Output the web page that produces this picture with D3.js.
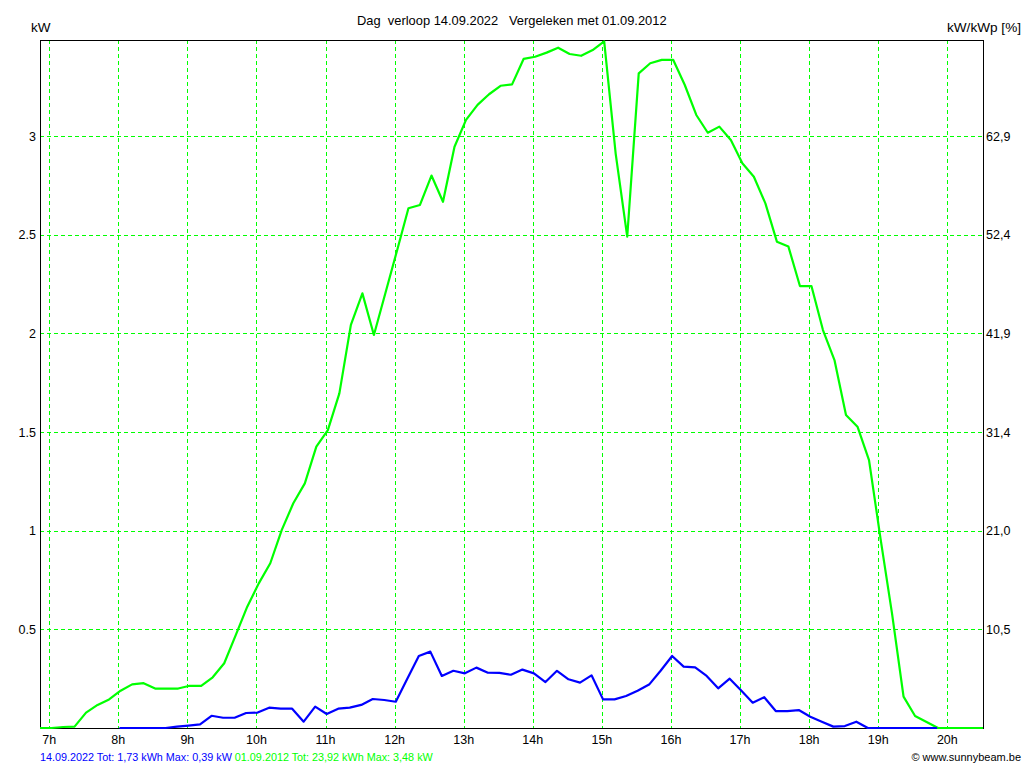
<!DOCTYPE html>
<html>
<head>
<meta charset="utf-8">
<script src="https://cdn.jsdelivr.net/npm/d3@7"></script>
<style>
  html, body { margin: 0; padding: 0; background: #fff; }
  svg { display: block; font-family: "Liberation Sans", Arial, sans-serif; }
  text { white-space: pre; }
</style>
</head>
<body>
<svg id="chart" width="1024" height="768"></svg>
<script>
// ---- Data ----
const hourTicks = [7, 8, 9, 10, 11, 12, 13, 14, 15, 16, 17, 18, 19, 20];
const hourLabels = ["7h","8h","9h","10h","11h","12h","13h","14h","15h","16h","17h","18h","19h","20h"];
const kwTicks = [0.5, 1, 1.5, 2, 2.5, 3];
const kwLabels = ["0.5", "1", "1.5", "2", "2.5", "3"];
const pctLabels = ["10,5", "21,0", "31,4", "41,9", "52,4", "62,9"];

// 01.09.2012 (green) – 10 minute samples
const greenTimes = ["6:52","7:02","7:12","7:22","7:32","7:42","7:52","8:02","8:12","8:22","8:32","8:42","8:52",
  "9:02","9:12","9:22","9:32","9:42","9:52","10:02","10:12","10:22","10:32","10:42","10:52",
  "11:02","11:12","11:22","11:32","11:42","11:52","12:02","12:12","12:22","12:32","12:42","12:52",
  "13:02","13:12","13:22","13:32","13:42","13:52","14:02","14:12","14:22","14:32","14:42","14:52",
  "15:02","15:12","15:22","15:32","15:42","15:52","16:02","16:12","16:22","16:32","16:42","16:52",
  "17:02","17:12","17:22","17:32","17:42","17:52","18:02","18:12","18:22","18:32","18:42","18:52",
  "19:02","19:12","19:22","19:32","19:42","19:52","20:02","20:12","20:22","20:31"];
const greenValues = [0,0,0.005,0.007,0.078,0.117,0.145,0.189,0.221,0.227,0.200,0.200,0.200,
  0.214,0.214,0.257,0.328,0.471,0.615,0.733,0.835,1.004,1.139,1.240,1.426,
  1.510,1.696,2.043,2.203,1.992,2.205,2.418,2.634,2.651,2.800,2.667,2.946,
  3.082,3.158,3.212,3.255,3.262,3.391,3.402,3.423,3.448,3.416,3.407,3.436,
  3.480,2.910,2.490,3.318,3.369,3.386,3.386,3.259,3.107,3.017,3.048,2.980,
  2.862,2.794,2.659,2.465,2.440,2.240,2.240,2.017,1.865,1.586,1.527,1.358,
  0.960,0.580,0.159,0.061,0.030,0,0,0,0,0];

// 14.09.2022 (blue) – 10 minute samples
const blueTimes = ["8:01","8:11","8:21","8:31","8:41","8:51","9:01","9:11","9:21","9:31","9:41","9:51",
  "10:01","10:11","10:21","10:31","10:41","10:51","11:01","11:11","11:21","11:31","11:41","11:51",
  "12:01","12:11","12:21","12:31","12:41","12:51","13:01","13:11","13:21","13:31","13:41","13:51",
  "14:01","14:11","14:21","14:31","14:41","14:51","15:01","15:11","15:21","15:31","15:41","15:51",
  "16:01","16:11","16:21","16:31","16:41","16:51","17:01","17:11","17:21","17:31","17:41","17:51",
  "18:01","18:11","18:21","18:31","18:41","18:51","19:01","19:11","19:21","19:31","19:41","19:51"];
const blueValues = [0,0,0,0,0,0.007,0.012,0.018,0.062,0.052,0.052,0.076,
  0.078,0.103,0.098,0.098,0.032,0.108,0.071,0.098,0.103,0.117,0.147,0.142,
  0.133,0.250,0.365,0.387,0.264,0.290,0.277,0.306,0.280,0.279,0.270,0.296,
  0.277,0.233,0.290,0.247,0.230,0.267,0.145,0.145,0.162,0.189,0.220,0.290,
  0.365,0.311,0.307,0.264,0.201,0.250,0.190,0.128,0.156,0.086,0.086,0.091,
  0.057,0.032,0.007,0.010,0.032,0,0,0,0,0,0,0];

const titleText = "Dag  verloop 14.09.2022   Vergeleken met 01.09.2012";
const footerBlue = "14.09.2022 Tot: 1,73 kWh Max: 0,39 kW ";
const footerGreen = "01.09.2012 Tot: 23,92 kWh Max: 3,48 kW";
const creditText = "\u00A9 www.sunnybeam.be";

// ---- Layout ----
const pLeft = 40, pRight = 983, pTop = 40, pBottom = 728;
const toHours = s => { const [h, m] = s.split(":").map(Number); return h + m / 60; };

const x = d3.scaleLinear().domain([6 + 52/60, 20 + 31/60]).range([pLeft, pRight]);
const y = d3.scaleLinear().domain([0, 3.487]).range([pBottom, pTop]);

const svg = d3.select("#chart");
const GRID = "#00ff00";

// grid
const g = svg.append("g");
g.selectAll("line.v").data(hourTicks).join("line")
  .attr("x1", d => Math.round(x(d)) + 0.5).attr("x2", d => Math.round(x(d)) + 0.5)
  .attr("y1", pTop).attr("y2", pBottom)
  .attr("stroke", GRID).attr("stroke-width", 1).attr("stroke-dasharray", "4,3")
  .attr("shape-rendering", "crispEdges");
g.selectAll("line.h").data(kwTicks).join("line")
  .attr("x1", pLeft).attr("x2", pRight)
  .attr("y1", d => Math.round(y(d)) + 0.5).attr("y2", d => Math.round(y(d)) + 0.5)
  .attr("stroke", GRID).attr("stroke-width", 1).attr("stroke-dasharray", "4,3")
  .attr("shape-rendering", "crispEdges");

// axes frame
const axisG = svg.append("g").attr("shape-rendering", "crispEdges");
axisG.append("line").attr("x1", pLeft).attr("x2", pRight).attr("y1", pTop + 0.5).attr("y2", pTop + 0.5).attr("stroke", "#000").attr("stroke-width", 1.5);
axisG.append("line").attr("x1", pLeft).attr("x2", pRight + 1).attr("y1", pBottom + 0.5).attr("y2", pBottom + 0.5).attr("stroke", "#000").attr("stroke-width", 1.5);
axisG.append("line").attr("x1", pLeft + 0.5).attr("x2", pLeft + 0.5).attr("y1", pTop).attr("y2", pBottom).attr("stroke", "#000").attr("stroke-width", 1.5);
axisG.append("line").attr("x1", pRight + 0.5).attr("x2", pRight + 0.5).attr("y1", pTop).attr("y2", pBottom).attr("stroke", "#000").attr("stroke-width", 1.5);

// lines
const line = d3.line().x(d => x(d[0])).y(d => y(d[1]));
const greenData = greenTimes.map((t, i) => [toHours(t), greenValues[i]]);
const blueData = blueTimes.map((t, i) => [toHours(t), blueValues[i]]);
svg.append("path").datum(greenData).attr("d", line)
  .attr("fill", "none").attr("stroke", "#00ff00").attr("stroke-width", 2.2).attr("stroke-linejoin", "round");
svg.append("path").datum(blueData).attr("d", line)
  .attr("fill", "none").attr("stroke", "#0000ff").attr("stroke-width", 2.2).attr("stroke-linejoin", "round");

// tick labels
svg.append("g").selectAll("text").data(hourTicks).join("text")
  .attr("x", d => x(d)).attr("y", 744)
  .attr("text-anchor", "middle").attr("font-size", 12.5).attr("fill", "#000")
  .text((d, i) => hourLabels[i]);
svg.append("g").selectAll("text").data(kwTicks).join("text")
  .attr("x", 36).attr("y", d => y(d) + 4.5)
  .attr("text-anchor", "end").attr("font-size", 12.5).attr("fill", "#000")
  .text((d, i) => kwLabels[i]);
svg.append("g").selectAll("text").data(kwTicks).join("text")
  .attr("x", 986).attr("y", d => y(d) + 4.5)
  .attr("text-anchor", "start").attr("font-size", 12.5).attr("fill", "#000")
  .text((d, i) => pctLabels[i]);

// titles
svg.append("text").attr("x", 357).attr("y", 25).attr("font-size", 12.9).attr("fill", "#000").text(titleText);
svg.append("text").attr("x", 31).attr("y", 32).attr("font-size", 13.5).attr("fill", "#000").text("kW");
svg.append("text").attr("x", 1021).attr("y", 32).attr("text-anchor", "end").attr("font-size", 13.6).attr("fill", "#000").text("kW/kWp [%]");

// footer
const ft = svg.append("text").attr("x", 40).attr("y", 761).attr("font-size", 10.8);
ft.append("tspan").attr("fill", "#0000ff").text(footerBlue);
ft.append("tspan").attr("fill", "#00ff00").text(footerGreen);
svg.append("text").attr("x", 1021).attr("y", 761).attr("text-anchor", "end").attr("font-size", 11).attr("fill", "#000").text(creditText);
</script>
</body>
</html>
